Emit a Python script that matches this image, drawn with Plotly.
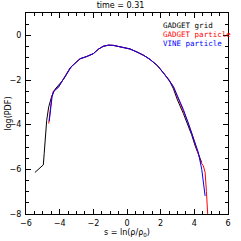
import plotly.graph_objects as go

grid_x = [-5.47, -4.97, -4.92, -4.85, -4.77, -4.65, -4.47, -4.28, -4.0, -3.78, -3.55, -3.39, -3.1, -2.79, -2.4, -2.0, -1.7, -1.41, -1.1, -0.81, -0.5, -0.2, 0.18, 0.6, 1.0, 1.37, 1.8, 2.16, 2.5, 2.75, 3.0, 3.35, 3.6, 3.84, 4.05, 4.24, 4.35, 4.44]
grid_y = [-6.14, -5.8, -5.3, -4.6, -3.8, -3.2, -2.72, -2.42, -2.2, -1.98, -1.7, -1.46, -1.25, -1.05, -0.95, -0.82, -0.62, -0.49, -0.44, -0.45, -0.5, -0.55, -0.61, -0.75, -0.9, -1.08, -1.35, -1.68, -2.0, -2.38, -2.9, -3.5, -3.98, -4.45, -4.95, -5.35, -5.5, -5.7]

gpart_x = [-4.65, -4.58, -4.48, -4.38, -4.2, -4.05, -3.9, -3.7, -3.5, -3.3, -3.0, -2.79, -2.4, -2.0, -1.7, -1.41, -1.1, -0.81, -0.5, -0.2, 0.18, 0.6, 1.0, 1.37, 1.8, 2.16, 2.5, 2.75, 3.0, 3.35, 3.6, 3.84, 4.05, 4.24, 4.4, 4.54, 4.64, 4.72, 4.8]
gpart_y = [-3.95, -3.4, -2.8, -2.5, -2.42, -2.3, -2.1, -1.85, -1.6, -1.4, -1.2, -1.05, -0.95, -0.82, -0.62, -0.49, -0.44, -0.45, -0.5, -0.55, -0.61, -0.75, -0.9, -1.08, -1.35, -1.68, -2.0, -2.3, -2.75, -3.32, -3.85, -4.36, -4.85, -5.25, -5.7, -5.85, -6.14, -7.0, -8.1]

vine_x = [-4.62, -4.55, -4.45, -4.35, -4.2, -4.05, -3.9, -3.7, -3.5, -3.3, -3.0, -2.79, -2.4, -2.0, -1.7, -1.41, -1.1, -0.81, -0.5, -0.2, 0.18, 0.6, 1.0, 1.37, 1.8, 2.16, 2.5, 2.75, 3.0, 3.35, 3.6, 3.84, 4.05, 4.24, 4.44, 4.54, 4.64]
vine_y = [-3.85, -3.3, -2.75, -2.5, -2.4, -2.3, -2.1, -1.85, -1.6, -1.4, -1.2, -1.05, -0.95, -0.82, -0.62, -0.49, -0.44, -0.45, -0.5, -0.55, -0.61, -0.75, -0.9, -1.08, -1.35, -1.68, -2.0, -2.28, -2.72, -3.32, -3.85, -4.36, -4.85, -5.25, -6.0, -6.6, -7.19]

x_ticks = [-6, -4, -2, 0, 2, 4, 6]
y_ticks = [-8, -6, -4, -2, 0]

FONT = "DejaVu Sans"
MONO = "DejaVu Sans Mono"

fig = go.Figure()
fig.add_trace(go.Scatter(x=grid_x, y=grid_y, mode="lines", line=dict(color="black", width=1), name="GADGET grid"))
fig.add_trace(go.Scatter(x=gpart_x, y=gpart_y, mode="lines", line=dict(color="red", width=1), name="GADGET particle"))
fig.add_trace(go.Scatter(x=vine_x, y=vine_y, mode="lines", line=dict(color="blue", width=1), name="VINE particle"))

axis_common = dict(
    showgrid=False, zeroline=False, showline=True, linecolor="black", linewidth=1,
    mirror="allticks", ticks="inside", ticklen=5, tickcolor="black", tickwidth=1,
    tickfont=dict(family=FONT, size=8, color="black"), automargin=False,
    minor=dict(ticks="inside", ticklen=3, tickcolor="black", dtick=0.5),
)

fig.update_xaxes(range=[-6, 6], tickvals=x_ticks, ticktext=["\u22126", "\u22124", "\u22122", "0", "2", "4", "6"],
                 ticklabelstandoff=1, **axis_common)
fig.update_yaxes(range=[-8, 1], tickvals=y_ticks, ticktext=["\u22128", "\u22126", "\u22124", "\u22122", "0"],
                 ticklabelstandoff=2, **axis_common)

fig.add_annotation(x=0.5, y=-0.095, xref="paper", yref="paper", xanchor="center", yanchor="middle",
                   text="s = ln(\u03c1/\u03c1<sub>0</sub>)", showarrow=False,
                   font=dict(family=FONT, size=8, color="black"))
fig.add_annotation(x=-0.089, y=0.5, xref="paper", yref="paper", xanchor="center", yanchor="middle",
                   text="log(PDF)", textangle=-90, showarrow=False,
                   font=dict(family=FONT, size=8, color="black"))

legend_items = [("GADGET grid", "black"), ("GADGET particle", "red"), ("VINE particle", "blue")]
for i, (txt, col) in enumerate(legend_items):
    fig.add_annotation(x=0.668, y=0.94 - i * 0.045, xref="paper", yref="paper", xanchor="left", yanchor="middle",
                       text=txt, showarrow=False, font=dict(family=MONO, size=7.5, color=col))

fig.update_layout(
    width=241, height=241,
    margin=dict(l=26, r=13, t=13, b=27),
    paper_bgcolor="white", plot_bgcolor="white",
    showlegend=False,
    title=dict(text="time = 0.31", x=0.5, xanchor="center", y=0.99, yanchor="top",
               font=dict(family=FONT, size=8, color="black")),
)

fig.write_html("out.html", config={"displayModeBar": False},
               post_script="document.body.style.margin='0';")
